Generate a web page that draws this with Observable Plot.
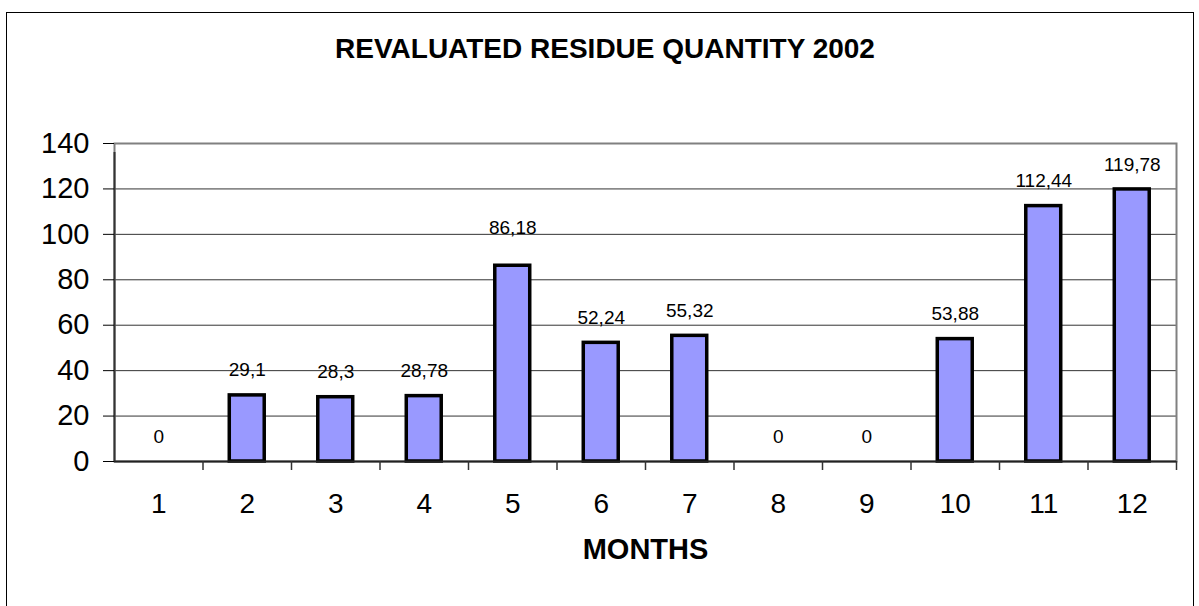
<!DOCTYPE html>
<html>
<head>
<meta charset="utf-8">
<script src="https://cdn.jsdelivr.net/npm/d3@7"></script>
<script src="https://cdn.jsdelivr.net/npm/@observablehq/plot@0.6"></script>
<style>
  html, body { margin: 0; padding: 0; background: #fff; }
  #wrap { position: relative; width: 1199px; height: 606px; overflow: hidden; font-family: "Liberation Sans", Arial, sans-serif; }
  #title { position: absolute; left: 10px; width: 1190px; top: 33px; line-height: 32px; text-align: center; font-weight: bold; font-size: 28px; color: #000; }
  #border { position: absolute; left: 6px; top: 12px; width: 1186px; height: 600px; border: 1.5px solid #000; pointer-events: none; }
  #chart { position: absolute; left: 0; top: 0; }
</style>
</head>
<body>
<div id="wrap">
  <div id="chart"></div>
  <div id="title">REVALUATED RESIDUE QUANTITY 2002</div>
  <div id="border"></div>
</div>
<script>
const months = ["1","2","3","4","5","6","7","8","9","10","11","12"];
const quantities = [0, 29.1, 28.3, 28.78, 86.18, 52.24, 55.32, 0, 0, 53.88, 112.44, 119.78];
const yTicks = [0, 20, 40, 60, 80, 100, 120, 140];
const xLabel = "MONTHS";

const data = months.map((m, i) => ({month: m, value: quantities[i], label: String(quantities[i]).replace(".", ",")}));

const W = 1199, H = 606, mL = 114, mR = 23, mT = 143, mB = 145;
const step = (W - mL - mR) / months.length;

const chart = Plot.plot({
  width: W,
  height: H,
  marginLeft: mL,
  marginRight: mR,
  marginTop: mT,
  marginBottom: mB,
  style: {fontFamily: "'Liberation Sans', Arial, sans-serif", color: "#000", background: "transparent"},
  x: {domain: months, paddingInner: 0.605, paddingOuter: 0.3025, round: false, label: null},
  y: {domain: [0, 140], label: null},
  marks: [
    Plot.ruleY(yTicks, {stroke: "#333", strokeWidth: 1}),
    Plot.frame({stroke: "#808080", strokeWidth: 2}),
    Plot.barY(data, {x: "month", y: "value", fill: "#9999FF", stroke: "#000", strokeWidth: 3.5}),
    Plot.ruleY([0], {stroke: "#222", strokeWidth: 2}),
    Plot.ruleX([months[0]], {dx: -step / 2, y1: 0, y2: 140, insetBottom: -9, stroke: "#333", strokeWidth: 2}),
    Plot.ruleX(months.slice(1), {dx: -step / 2, y1: 0, y2: 0, insetBottom: -9, stroke: "#333", strokeWidth: 1.5}),
    Plot.ruleX([months[months.length - 1]], {dx: step / 2, y1: 0, y2: 0, insetBottom: -9, stroke: "#333", strokeWidth: 1.5}),
    Plot.axisY({ticks: yTicks, tickSize: 11, tickPadding: 14, fontSize: 29, stroke: "#000", label: null}),
    Plot.axisX({tickSize: 0, tickPadding: 32, fontSize: 28, label: null}),
    Plot.text(data.filter(d => d.month !== "5"), {x: "month", y: "value", text: "label", dy: -25, fontSize: 19, fill: "#000"}),
    Plot.text(data.filter(d => d.month === "5"), {x: "month", y: "value", text: "label", dy: -38, fontSize: 19, fill: "#000"}),
    Plot.text([xLabel], {frameAnchor: "bottom", dy: 97, fontSize: 29, fontWeight: "bold", fill: "#000"})
  ]
});
document.getElementById("chart").appendChild(chart);
</script>
</body>
</html>
